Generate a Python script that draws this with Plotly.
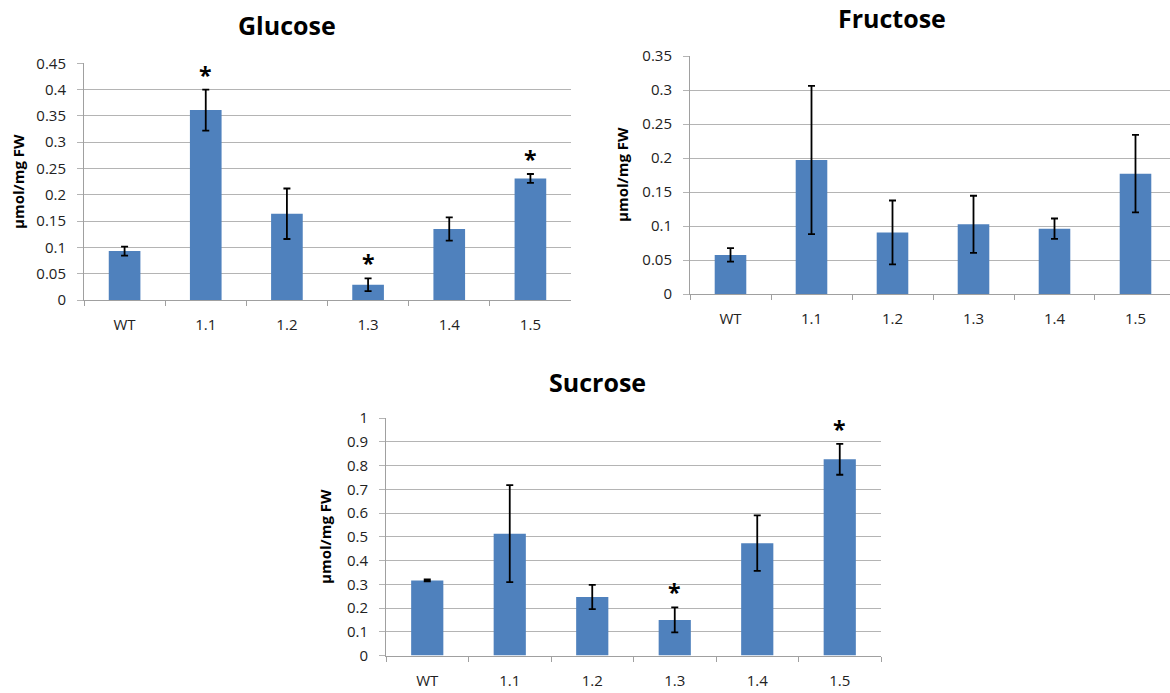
import plotly.graph_objects as go

categories = ["WT", "1.1", "1.2", "1.3", "1.4", "1.5"]

glucose_vals = [0.093, 0.361, 0.164, 0.029, 0.135, 0.231]
glucose_err = [0.0085, 0.039, 0.048, 0.012, 0.022, 0.0085]
glucose_sig = ["1.1", "1.3", "1.5"]

fructose_vals = [0.0575, 0.197, 0.0905, 0.1025, 0.096, 0.177]
fructose_err = [0.010, 0.109, 0.047, 0.042, 0.015, 0.057]
fructose_sig = []

sucrose_vals = [0.316, 0.513, 0.246, 0.150, 0.473, 0.826]
sucrose_err = [0.004, 0.204, 0.051, 0.053, 0.117, 0.065]
sucrose_sig = ["1.3", "1.5"]

W, H = 1170, 693
BAR = "#4F81BD"
GRID = "#b4b4b4"
FONT = "Open Sans"

def px(x):
    return x / W

def py(y):
    return 1 - y / H

panels = [
    dict(name="Glucose", vals=glucose_vals, err=glucose_err, sig=glucose_sig,
         x0=84, x1=571, y0=300, y1=63.3, ymax=0.45, dtick=0.05, xr=[-0.5, 5.5],
         title=(287, 25), ylab=(18, 182)),
    dict(name="Fructose", vals=fructose_vals, err=fructose_err, sig=fructose_sig,
         x0=690, x1=1170, y0=294, y1=56, ymax=0.35, dtick=0.05, xr=[-0.5, 5.426],
         title=(892, 18), ylab=(622, 175)),
    dict(name="Sucrose", vals=sucrose_vals, err=sucrose_err, sig=sucrose_sig,
         x0=386, x1=881, y0=655.5, y1=418, ymax=1.0, dtick=0.1, xr=[-0.5, 5.5],
         title=(597, 382), ylab=(325, 537)),
]

fig = go.Figure()
annotations = []
layout = {}
for i, p in enumerate(panels, start=1):
    xa = "x" if i == 1 else f"x{i}"
    ya = "y" if i == 1 else f"y{i}"
    fig.add_trace(go.Bar(
        x=categories, y=p["vals"], xaxis=xa, yaxis=ya,
        marker=dict(color=BAR, line=dict(width=0)), width=0.39,
        error_y=dict(type="data", array=p["err"], visible=True,
                     color="black", thickness=1.8, width=3.5),
        showlegend=False, hoverinfo="x+y",
    ))
    xkey = "xaxis" if i == 1 else f"xaxis{i}"
    ykey = "yaxis" if i == 1 else f"yaxis{i}"
    layout[xkey] = dict(
        domain=[px(p["x0"]), px(p["x1"])], anchor=ya, type="category",
        range=p["xr"], showgrid=False, showline=True, linecolor="#a0a0a0",
        linewidth=1, ticks="outside", tickson="boundaries", ticklen=5,
        tickcolor="#a0a0a0", tickfont=dict(family=FONT, size=15, color="#222"),
        ticklabelstandoff=11, fixedrange=True, zeroline=False, automargin=False,
    )
    layout[ykey] = dict(
        domain=[py(p["y0"]), py(p["y1"])], anchor=xa,
        range=[0, p["ymax"]], dtick=p["dtick"], tick0=0,
        showgrid=True, gridcolor=GRID, gridwidth=1,
        showline=True, linecolor="#a0a0a0", linewidth=1,
        ticks="outside", ticklen=6, tickcolor=GRID,
        tickfont=dict(family=FONT, size=15, color="#222"),
        zeroline=False, fixedrange=True, ticklabelstandoff=8, automargin=False,
    )
    annotations.append(dict(
        text=f"<b>{p['name']}</b>", x=px(p["title"][0]), y=py(p["title"][1]),
        xref="paper", yref="paper", showarrow=False,
        xanchor="center", yanchor="middle",
        font=dict(family=FONT, size=25, color="black"),
    ))
    annotations.append(dict(
        text="<b>µmol/mg FW</b>", x=px(p["ylab"][0]), y=py(p["ylab"][1]),
        xref="paper", yref="paper", showarrow=False, textangle=-90,
        xanchor="center", yanchor="middle",
        font=dict(family=FONT, size=15, color="black"),
    ))
    for c in p["sig"]:
        k = categories.index(c)
        annotations.append(dict(
            text="<b>*</b>", x=k, y=p["vals"][k] + p["err"][k],
            xref=xa, yref=ya, showarrow=False, xanchor="center",
            yanchor="bottom", yshift=-3,
            font=dict(family=FONT, size=23, color="black"),
        ))

fig.update_layout(
    width=W, height=H,
    margin=dict(l=0, r=0, t=0, b=0, pad=0, autoexpand=False),
    paper_bgcolor="white", plot_bgcolor="white",
    annotations=annotations, bargap=0.6, **layout,
)

fig.write_html(
    "out.html", config={"displayModeBar": False},
    post_script="document.body.style.margin='0';document.body.style.overflow='hidden';",
)
